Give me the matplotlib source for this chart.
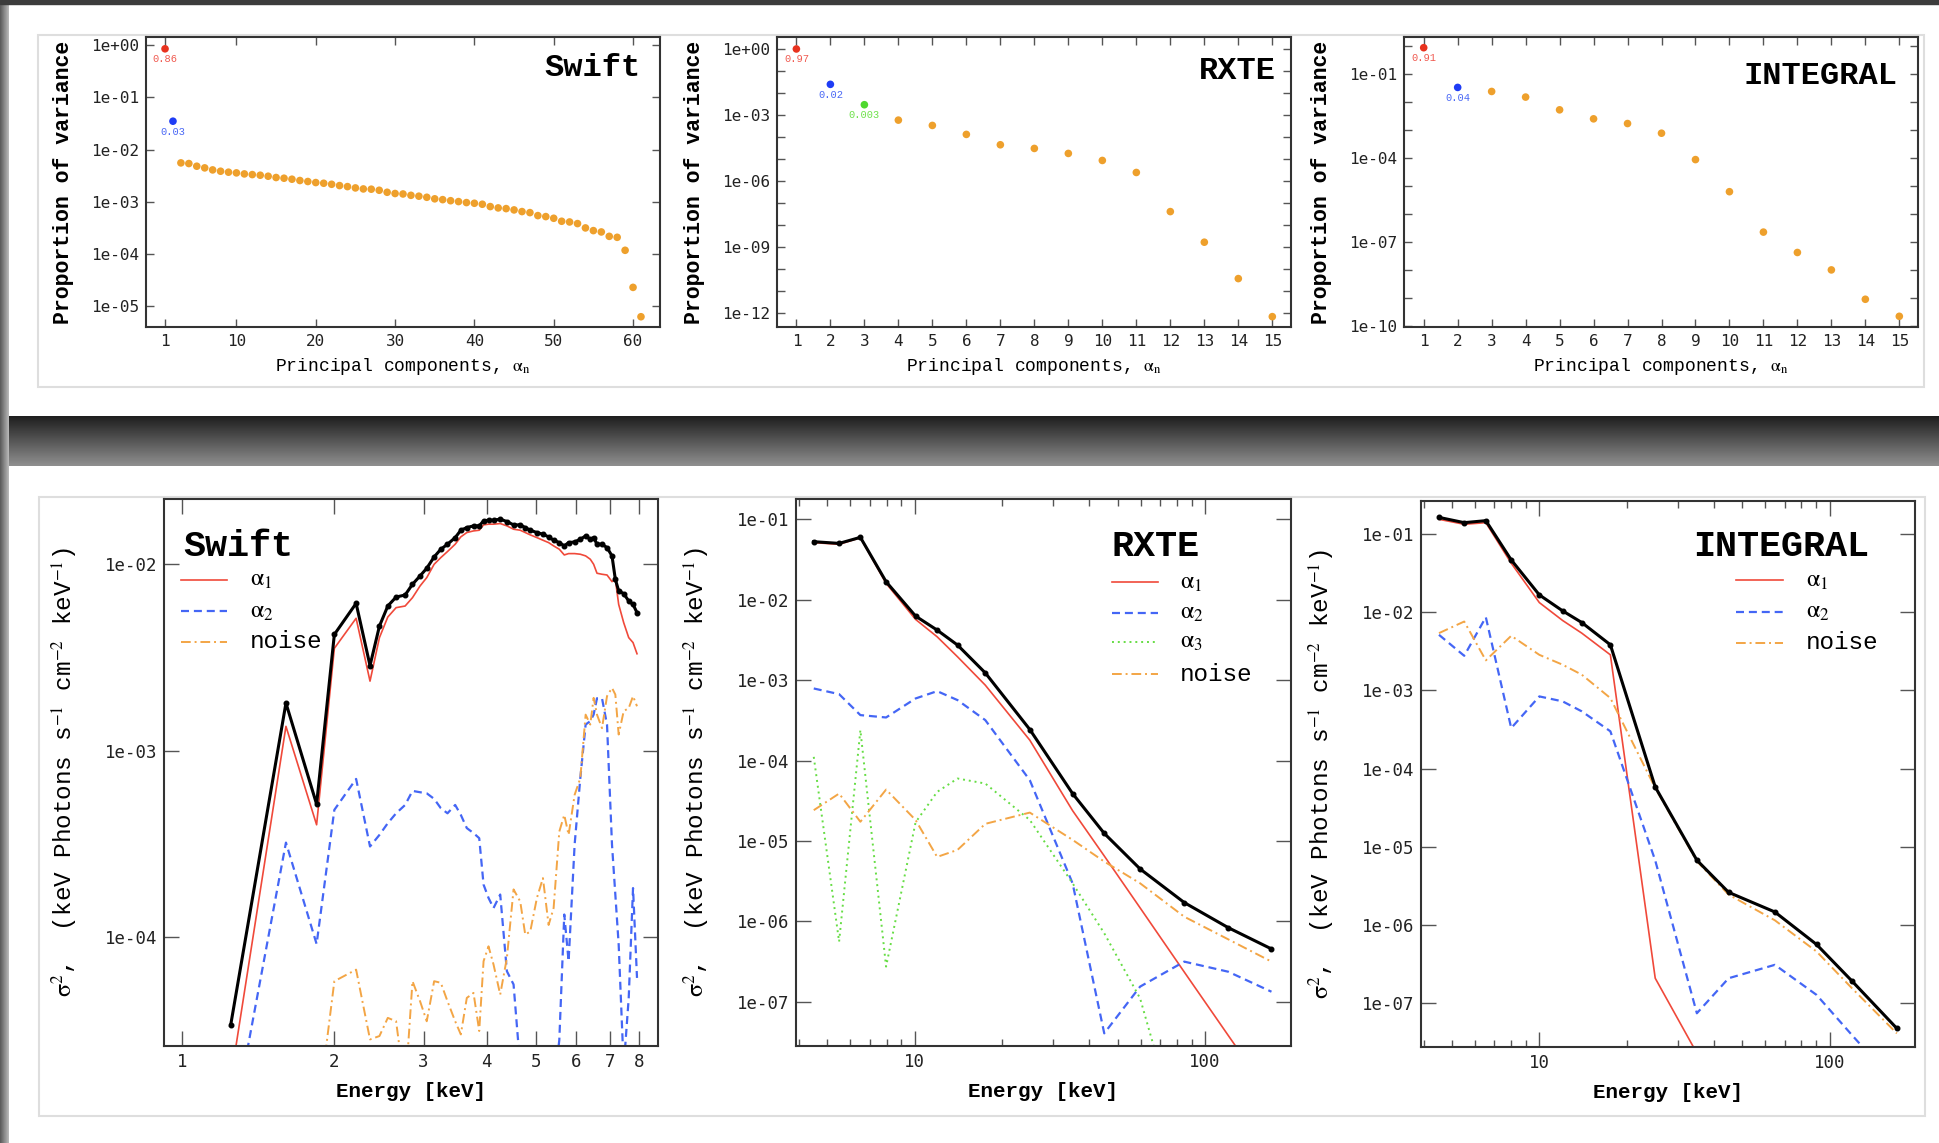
import numpy as np
import matplotlib
matplotlib.use('Agg')
import matplotlib.pyplot as plt
from matplotlib.patches import Rectangle
from matplotlib.ticker import NullLocator

plt.rcParams['font.family'] = ['Liberation Mono', 'DejaVu Sans']
plt.rcParams['mathtext.fontset'] = 'stix'

# ---------------- proportion of variance per principal component ----------------
swift_pc_var = [0.86, 0.035,
                5.54e-3, 5.38e-3, 4.78e-3, 4.44e-3, 4.06e-3, 3.83e-3, 3.67e-3, 3.56e-3, 3.40e-3, 3.30e-3,
                3.21e-3, 3.07e-3, 2.90e-3, 2.81e-3, 2.69e-3, 2.54e-3, 2.43e-3, 2.32e-3, 2.25e-3, 2.15e-3,
                2.03e-3, 1.94e-3, 1.83e-3, 1.75e-3, 1.73e-3, 1.65e-3, 1.51e-3, 1.43e-3, 1.40e-3, 1.32e-3,
                1.27e-3, 1.21e-3, 1.13e-3, 1.09e-3, 1.04e-3, 1.00e-3, 9.57e-4, 9.29e-4, 8.89e-4, 8.02e-4,
                7.56e-4, 7.33e-4, 6.92e-4, 6.43e-4, 6.14e-4, 5.38e-4, 5.15e-4, 4.78e-4, 4.19e-4, 4.06e-4,
                3.78e-4, 3.12e-4, 2.77e-4, 2.61e-4, 2.15e-4, 2.06e-4, 1.16e-4, 2.25e-5, 6.14e-6]
rxte_pc_var = [0.97, 0.024, 2.85e-3, 5.7e-4, 3.27e-4, 1.28e-4, 4.33e-5, 2.95e-5, 1.75e-5,
               8.4e-6, 2.39e-6, 4.0e-8, 1.63e-9, 3.63e-11, 6.8e-13]
integral_pc_var = [0.90, 0.0343, 0.0246, 0.0155, 5.43e-3, 2.59e-3, 1.76e-3, 7.94e-4, 9.06e-5,
                   6.47e-6, 2.33e-7, 4.36e-8, 1.04e-8, 9.3e-10, 2.29e-10]
swift_pc_labels = ['0.86', '0.03']
rxte_pc_labels = ['0.97', '0.02', '0.003']
integral_pc_labels = ['0.91', '0.04']

# ---------------- variance spectra ----------------
swift_energy = [1.248, 1.605, 1.845, 2.0, 2.208, 2.352, 2.455, 2.55, 2.648, 2.759,
                2.853, 2.953, 3.044, 3.148, 3.245, 3.345, 3.464, 3.554, 3.652, 3.765,
                3.864, 3.941, 4.031, 4.124, 4.251, 4.382, 4.517, 4.656, 4.763, 4.873,
                5.023, 5.162, 5.297, 5.419, 5.561, 5.688, 5.801, 5.962, 6.118, 6.268,
                6.402, 6.500, 6.600, 6.752, 6.908, 7.066, 7.174, 7.284, 7.452, 7.624,
                7.775, 7.917]
swift_total = [3.35e-5, 1.80e-3, 5.16e-4, 4.20e-3, 6.17e-3, 2.86e-3, 4.66e-3, 5.97e-3, 6.67e-3, 6.84e-3,
               7.81e-3, 8.66e-3, 9.52e-3, 1.095e-2, 1.204e-2, 1.281e-2, 1.39e-2, 1.523e-2, 1.574e-2, 1.607e-2,
               1.607e-2, 1.71e-2, 1.724e-2, 1.724e-2, 1.746e-2, 1.696e-2, 1.627e-2, 1.627e-2, 1.574e-2, 1.523e-2,
               1.48e-2, 1.45e-2, 1.403e-2, 1.346e-2, 1.307e-2, 1.255e-2, 1.307e-2, 1.318e-2, 1.362e-2, 1.42e-2,
               1.362e-2, 1.39e-2, 1.281e-2, 1.281e-2, 1.229e-2, 1.109e-2, 8.31e-3, 7.19e-3, 6.96e-3, 6.35e-3,
               6.09e-3, 5.50e-3]
swift_a1 = [1.7e-5, 1.35e-3, 4.0e-4, 3.54e-3, 5.13e-3, 2.36e-3, 4.04e-3, 5.21e-3, 5.85e-3, 5.97e-3,
            6.62e-3, 7.65e-3, 8.48e-3, 1.0e-2, 1.086e-2, 1.17e-2, 1.281e-2, 1.403e-2, 1.48e-2, 1.51e-2,
            1.523e-2, 1.627e-2, 1.641e-2, 1.641e-2, 1.654e-2, 1.607e-2, 1.542e-2, 1.523e-2, 1.48e-2, 1.438e-2,
            1.39e-2, 1.346e-2, 1.307e-2, 1.255e-2, 1.204e-2, 1.122e-2, 1.141e-2, 1.141e-2, 1.132e-2, 1.109e-2,
            1.064e-2, 1.0e-2, 8.95e-3, 8.84e-3, 8.76e-3, 8.07e-3, 8.31e-3, 6.09e-3, 4.86e-3, 4.04e-3,
            3.80e-3, 3.31e-3]
swift_a2 = [8.2e-6, 3.21e-4, 9.17e-5, 4.81e-4, 7.05e-4, 3.06e-4, 3.53e-4, 4.08e-4, 4.61e-4, 5.11e-4,
            6.08e-4, 5.98e-4, 5.90e-4, 5.51e-4, 4.91e-4, 4.61e-4, 5.11e-4, 4.52e-4, 3.84e-4, 3.61e-4,
            3.39e-4, 1.91e-4, 1.62e-4, 1.43e-4, 1.69e-4, 6.55e-5, 5.56e-5, 2.0e-5, 1.0e-5, 1.0e-5,
            1.0e-5, 1.0e-5, 1.0e-5, 1.5e-5, 2.8e-5, 1.32e-4, 7.41e-5, 3.13e-4, 7.11e-4, 1.38e-3,
            1.44e-3, 1.56e-3, 1.91e-3, 1.91e-3, 1.38e-3, 3.13e-4, 1.69e-4, 9.1e-5, 2.0e-5, 4.71e-5,
            1.83e-4, 6.03e-5]
swift_noise = [1.0e-5, 1.0e-5, 1.0e-5, 5.79e-5, 6.68e-5, 2.82e-5, 2.94e-5, 3.68e-5, 3.53e-5, 1.5e-5,
               5.79e-5, 4.52e-5, 3.53e-5, 5.79e-5, 5.68e-5, 4.52e-5, 3.53e-5, 3.0e-5, 4.71e-5, 5.01e-5,
               3.13e-5, 7.41e-5, 8.91e-5, 7.11e-5, 4.91e-5, 7.72e-5, 1.8e-4, 1.55e-4, 1.03e-4, 1.07e-4,
               1.62e-4, 2.07e-4, 1.16e-4, 1.43e-4, 3.68e-4, 4.52e-4, 3.53e-4, 5.79e-4, 7.11e-4, 1.56e-3,
               1.38e-3, 1.92e-3, 1.56e-3, 1.32e-3, 1.96e-3, 2.17e-3, 2.0e-3, 1.22e-3, 1.63e-3, 1.69e-3,
               1.96e-3, 1.73e-3]

rxte_energy = [4.49, 5.49, 6.50, 7.97, 10.07, 11.95, 14.05, 17.51, 24.93, 35.0, 45.0, 59.8, 84.9, 120.3, 169.6]
rxte_total = [0.0527, 0.0502, 0.0597, 0.01675, 6.26e-3, 4.19e-3, 2.73e-3, 1.23e-3, 2.43e-4, 3.88e-5,
              1.24e-5, 4.48e-6, 1.71e-6, 8.34e-7, 4.53e-7]
rxte_a1 = [0.0513, 0.0489, 0.059, 0.0160, 5.69e-3, 3.46e-3, 1.95e-3, 8.66e-4, 1.79e-4, 2.38e-5,
           6.5e-6, 1.47e-6, 2.34e-7, 3.81e-8, 6.4e-9]
rxte_a2 = [7.87e-4, 6.69e-4, 3.67e-4, 3.43e-4, 5.91e-4, 7.29e-4, 5.64e-4, 3.18e-4, 5.69e-5, 2.97e-6,
           4.04e-8, 1.54e-7, 3.15e-7, 2.36e-7, 1.33e-7]
rxte_a3 = [1.11e-4, 5.58e-7, 2.39e-4, 2.73e-7, 1.7e-5, 4.07e-5, 5.97e-5, 5.17e-5, 1.82e-5, 2.97e-6,
           7.1e-7, 1.1e-7, 1.3e-9, 1e-10, 1e-11]
rxte_noise = [2.41e-5, 3.88e-5, 1.73e-5, 4.35e-5, 1.82e-5, 6.32e-6, 7.73e-6, 1.63e-5, 2.25e-5, 1.03e-5,
              5.53e-6, 2.97e-6, 1.14e-6, 5.97e-7, 3.15e-7]

integral_energy = [4.51, 5.51, 6.54, 8.0, 10.0, 12.03, 14.0, 17.57, 25.08, 34.9, 44.9, 64.8, 90.2, 119.4, 170.6]
integral_total = [0.163, 0.1395, 0.148, 0.0466, 0.01663, 0.0104, 7.38e-3, 3.83e-3, 5.83e-5, 6.75e-6,
                  2.62e-6, 1.47e-6, 5.65e-7, 1.93e-7, 4.77e-8]
integral_a1 = [0.154, 0.133, 0.1395, 0.0423, 0.01327, 7.83e-3, 5.40e-3, 2.85e-3, 2.09e-7, 2.3e-8,
               1e-9, 1e-10, 1e-11, 1e-12, 1e-13]
integral_a2 = [5.14e-3, 2.77e-3, 8.63e-3, 3.30e-4, 8.38e-4, 7.24e-4, 5.40e-4, 3.0e-4, 6.7e-6, 7.45e-8,
               2.09e-7, 3.10e-7, 1.28e-7, 3.93e-8, 9e-9]
integral_noise = [5.40e-3, 7.60e-3, 2.42e-3, 4.99e-3, 2.85e-3, 2.13e-3, 1.59e-3, 7.98e-4, 5.66e-5, 6.55e-6,
                  2.45e-6, 1.15e-6, 4.59e-7, 1.56e-7, 4.12e-8]

# colours
pt_colors = ['#e8321e', '#1e3cf5', '#4fd82e']
pt_label_colors = ['#f05a50', '#4a68f5', '#6ee24a']
pt_orange = '#eea02c'
c_red, c_blue, c_green, c_orange = '#f0493a', '#4466f5', '#66dd44', '#f3a545'

styles = {
    'a1': dict(color=c_red, lw=1.2, ls='-'),
    'a2': dict(color=c_blue, lw=1.6, ls=(0, (3.6, 2.2))),
    'a3': dict(color=c_green, lw=1.4, ls=(0, (1, 2))),
    'noise': dict(color=c_orange, lw=1.4, ls=(0, (5, 2, 1, 2))),
}

fig = plt.figure(figsize=(19.4, 11.43), dpi=100)

# page background: gray edges, dark band, light panel frames
bg = fig.add_axes([0, 0, 1, 1], zorder=-10)
bg.imshow(np.linspace(0.12, 0.56, 60)[:, None], extent=(0, 1940, 466, 416), cmap='gray',
          vmin=0, vmax=1, aspect='auto', interpolation='bilinear')
bg.imshow(np.linspace(0.36, 0.72, 10)[None, :], extent=(0, 9, 1143, 0), cmap='gray',
          vmin=0, vmax=1, aspect='auto', interpolation='bilinear')
bg.add_patch(Rectangle((0, 0), 1940, 4, color='#3c3c3c'))
bg.add_patch(Rectangle((38, 35), 1886, 352, fill=False, ec='#dedede', lw=1.5))
bg.add_patch(Rectangle((39, 497), 1886, 619, fill=False, ec='#dedede', lw=1.5))
bg.set_xlim(0, 1940)
bg.set_ylim(1143, 0)
bg.axis('off')


def frame(ax, length, fsize):
    for s in ax.spines.values():
        s.set_linewidth(1.5)
        s.set_color('#333333')
    ax.tick_params(which='both', direction='in', top=True, right=True, color='#555555',
                   width=1, labelsize=fsize, labelfontfamily='DejaVu Sans Mono', labelcolor='#222222')
    ax.tick_params(which='major', length=length, pad=5)
    ax.tick_params(which='minor', length=length * 0.48)


def pc_panel(rect, values, labels, title, title_xy, xlim, ylim, xticks, decades, labelled):
    ax = fig.add_axes(rect)
    n = np.arange(1, len(values) + 1)
    colors = pt_colors[:len(labels)] + [pt_orange] * (len(values) - len(labels))
    ax.scatter(n, values, s=30, c=colors, edgecolors='none', zorder=3, clip_on=False)
    for i, lab in enumerate(labels):
        ax.annotate(lab, (n[i], values[i]), xytext=(0, -7.5), textcoords='offset points',
                    ha='center', va='center', fontsize=7.5, color=pt_label_colors[i])
    ax.set_yscale('log')
    ax.set_xlim(*xlim)
    ax.set_ylim(*ylim)
    ax.set_xticks(xticks)
    yt = [10.0 ** -k for k in decades]
    ax.set_yticks(yt, labels=[f'{10.0 ** -k:.0e}' if k in labelled else '' for k in decades])
    ax.yaxis.set_minor_locator(NullLocator())
    frame(ax, 6, 11.5)
    ax.text(title_xy[0], title_xy[1], title, transform=ax.transAxes, ha='right', va='center',
            fontsize=23, fontweight='bold')
    ax.set_xlabel(r'Principal components, $\mathrm{\alpha}_{\mathrm{n}}$', fontsize=13)
    ax.xaxis.set_label_coords(0.5, -0.1)
    ax.set_ylabel('Proportion of variance', fontsize=15.5, fontweight='bold')
    ax.yaxis.set_label_coords(-0.141, 0.5)
    return ax


def spec_panel(rect, energy, total, comps, title, title_xy, key_x, key_rows, xlim, ylim, yticks):
    ax = fig.add_axes(rect)
    for name, vals, label in comps:
        ax.plot(energy, vals, **styles[name])
    ax.plot(energy, total, color='black', lw=2.2, marker='o', ms=3.3, zorder=5)
    ax.set_xscale('log')
    ax.set_yscale('log')
    ax.set_xlim(*xlim)
    ax.set_ylim(*ylim)
    ax.set_yticks(yticks, labels=[f'{v:.0e}' for v in yticks])
    ax.yaxis.set_minor_locator(NullLocator())
    frame(ax, 10.5, 12.5)
    # key
    ax.text(title_xy[0], title_xy[1], title, transform=ax.transAxes, ha='left', va='center',
            fontsize=26.5, fontweight='bold')
    for (name, vals, label), y in zip(comps, key_rows):
        ax.plot([key_x[0], key_x[1]], [y, y], transform=ax.transAxes, **styles[name])
        ax.text(key_x[2], y, label, transform=ax.transAxes, ha='left', va='center', fontsize=17.5)
    ax.set_xlabel('Energy [keV]', fontsize=15, fontweight='bold')
    ax.xaxis.set_label_coords(0.5, -0.066)
    ax.set_ylabel(r'$\mathrm{\sigma}^2$,  (keV Photons s$^{-1}$ cm$^{-2}$ keV$^{-1}$)', fontsize=17.5)
    ax.yaxis.set_label_coords(-0.17, 0.5)
    return ax


# ---------------- top row ----------------
pc_panel([0.07526, 0.71391, 0.26495, 0.25372], swift_pc_var, swift_pc_labels, 'Swift', (0.963, 0.893),
         (-1.4, 63.4), (3.9e-6, 1.45), [1, 10, 20, 30, 40, 50, 60], range(0, 6), range(0, 6))
pc_panel([0.40052, 0.71391, 0.26495, 0.25372], rxte_pc_var, rxte_pc_labels, 'RXTE', (0.971, 0.883),
         (0.43, 15.55), (2.3e-13, 3.39), range(1, 16), range(0, 13), [0, 3, 6, 9, 12])
pc_panel([0.72371, 0.71391, 0.26495, 0.25372], integral_pc_var, integral_pc_labels, 'INTEGRAL', (0.961, 0.866),
         (0.42, 15.55), (9.5e-11, 2.17), range(1, 16), range(0, 11), [1, 4, 7, 10])

# ---------------- bottom row ----------------
a1_lab, a2_lab, a3_lab = r'$\mathrm{\alpha}_1$', r'$\mathrm{\alpha}_2$', r'$\mathrm{\alpha}_3$'

ax = spec_panel([0.08454, 0.08486, 0.25464, 0.47857], swift_energy, swift_total,
                [('a1', swift_a1, a1_lab), ('a2', swift_a2, a2_lab), ('noise', swift_noise, 'noise')],
                'Swift', (0.0385, 0.914), (0.034, 0.1275, 0.174), [0.852, 0.795, 0.7386],
                (0.922, 8.71), (2.6e-5, 0.0224), [1e-2, 1e-3, 1e-4])
ax.set_xticks([1, 2, 3, 4, 5, 6, 7, 8], labels=['1', '2', '3', '4', '5', '6', '7', '8'])
ax.xaxis.set_minor_locator(NullLocator())

ax = spec_panel([0.41031, 0.08486, 0.25515, 0.47857], rxte_energy, rxte_total,
                [('a1', rxte_a1, a1_lab), ('a2', rxte_a2, a2_lab),
                 ('a3', rxte_a3, a3_lab), ('noise', rxte_noise, 'noise')],
                'RXTE', (0.638, 0.914), (0.638, 0.731, 0.776), [0.848, 0.7916, 0.7386, 0.680],
                (3.90, 198), (2.81e-8, 0.179), [1e-1, 1e-2, 1e-3, 1e-4, 1e-5, 1e-6, 1e-7])
ax.set_xticks([10, 100], labels=['10', '100'])
ax.set_xticks([4, 5, 6, 7, 8, 9, 20, 30, 40, 50, 60, 70, 80, 90], minor=True)
ax.tick_params(axis='x', which='minor', labelbottom=False)

ax = spec_panel([0.73247, 0.08399, 0.25464, 0.47769], integral_energy, integral_total,
                [('a1', integral_a1, a1_lab), ('a2', integral_a2, a2_lab), ('noise', integral_noise, 'noise')],
                'INTEGRAL', (0.5506, 0.916), (0.6377, 0.7328, 0.7794), [0.855, 0.797, 0.740],
                (3.91, 197), (2.76e-8, 0.264), [1e-1, 1e-2, 1e-3, 1e-4, 1e-5, 1e-6, 1e-7])
ax.set_xticks([10, 100], labels=['10', '100'])
ax.set_xticks([4, 5, 6, 7, 8, 9, 20, 30, 40, 50, 60, 70, 80, 90], minor=True)
ax.tick_params(axis='x', which='minor', labelbottom=False)

fig.savefig('out.png', dpi=100)
